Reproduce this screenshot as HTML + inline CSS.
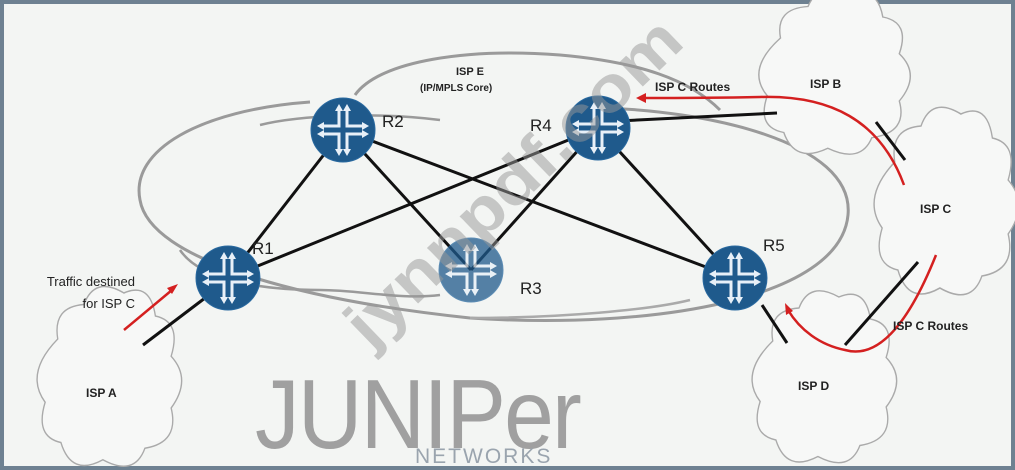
<!DOCTYPE html>
<html><head><meta charset="utf-8"><style>
html,body{margin:0;padding:0;}
body{width:1015px;height:470px;background:#6e8191;overflow:hidden;}
#c{position:absolute;left:4px;top:4px;width:1007px;height:462px;background:#f3f5f3;}
svg{position:absolute;left:0;top:0;}
text{font-family:"Liberation Sans",sans-serif;}
</style></head><body><div id="c"></div>
<svg width="1015" height="470" viewBox="0 0 1015 470">
<defs>
<g id="rt">
<circle r="32" fill="#1f5a8c" stroke="#2a6aa0" stroke-width="1"/>
<g stroke="#e8f0f8" stroke-width="3" fill="none">
<path d="M-4,-20 V-4 H-20 M4,-20 V-4 H20 M-4,20 V4 H-20 M4,20 V4 H20"/>
</g>
<g fill="#e8f0f8">
<path d="M-4,-26 l-4,7 h8z M4,-26 l-4,7 h8z M-4,26 l-4,-7 h8z M4,26 l-4,-7 h8z"/>
<path d="M-26,-4 l7,-4 v8z M-26,4 l7,-4 v8z M26,-4 l-7,-4 v8z M26,4 l-7,-4 v8z"/>
</g>
</g>
<path id="cloud" d="M-45,-40 q-5,-28 25,-30 q10,-25 38,-10 q25,-10 30,20 q25,5 15,35 q20,20 0,45 q8,30 -25,35 q-10,25 -40,10 q-30,15 -40,-15 q-25,-5 -15,-35 q-20,-25 12,-55z" fill="#f7f8f7" stroke="#aaa" stroke-width="1.3"/>
</defs>
<path d="M310,102 C200,110 130,150 140,200 C150,260 300,300 470,318 C650,330 840,300 848,215 C855,140 700,110 600,108" fill="none" stroke="#9a9a9a" stroke-width="3"/>
<path d="M355,95 C380,60 470,48 560,55 C640,62 690,80 720,110" fill="none" stroke="#9a9a9a" stroke-width="3"/>
<path d="M260,125 C300,115 380,112 440,120" fill="none" stroke="#9a9a9a" stroke-width="2.5"/>
<path d="M180,250 C200,280 260,290 320,290 C360,290 400,300 440,295" fill="none" stroke="#9a9a9a" stroke-width="2.5"/>
<path d="M690,300 C650,310 560,318 470,318" fill="none" stroke="#aaa" stroke-width="2.5"/>
<use href="#cloud" transform="translate(105,385) scale(1.05,1.15)"/>
<use href="#cloud" transform="translate(830,80) scale(1.1,1.05)"/>
<use href="#cloud" transform="translate(942,210) scale(1.05,1.2)"/>
<use href="#cloud" transform="translate(820,385) scale(1.05,1.1)"/>
<g stroke="#111" stroke-width="3" fill="none">
<line x1="228" y1="278" x2="343" y2="130"/>
<line x1="228" y1="278" x2="598" y2="128"/>
<line x1="343" y1="130" x2="471" y2="270"/>
<line x1="343" y1="130" x2="735" y2="278"/>
<line x1="471" y1="270" x2="598" y2="128"/>
<line x1="598" y1="128" x2="735" y2="278"/>
<line x1="598" y1="122" x2="777" y2="113"/>
<line x1="143" y1="345" x2="205" y2="298"/>
<line x1="762" y1="305" x2="787" y2="343"/>
<line x1="876" y1="122" x2="905" y2="160"/>
<line x1="918" y1="262" x2="845" y2="345"/>
</g>
<g stroke="#d42020" stroke-width="2.5" fill="none">
<line x1="124" y1="330" x2="172" y2="290"/>
<path d="M904,185 C880,120 830,95 760,97 C710,98 670,98 642,98"/>
<path d="M936,255 C910,320 880,360 845,350 C820,345 800,330 788,310"/>
</g>
<g fill="#d42020">
<path d="M178,284 l-11,4 l5,6z"/>
<path d="M636,98 l10,-5 v10z"/>
<path d="M785,303 l1,12 l7,-4z"/>
</g>
<use href="#rt" transform="translate(228,278)"/>
<use href="#rt" transform="translate(343,130)"/>
<use href="#rt" transform="translate(598,128)"/>
<use href="#rt" transform="translate(735,278)"/>
<g opacity="0.75"><use href="#rt" transform="translate(471,270)"/></g>
<g font-size="17" fill="#222">
<text x="252" y="254">R1</text>
<text x="382" y="127">R2</text>
<text x="520" y="294">R3</text>
<text x="530" y="131">R4</text>
<text x="763" y="251">R5</text>
</g>
<g font-size="12" fill="#222" font-weight="bold">
<text x="456" y="75" font-size="11">ISP E</text>
<text x="420" y="91" font-size="10">(IP/MPLS Core)</text>
<text x="655" y="91">ISP C Routes</text>
<text x="810" y="88">ISP B</text>
<text x="920" y="213">ISP C</text>
<text x="893" y="330">ISP C Routes</text>
<text x="798" y="390">ISP D</text>
<text x="86" y="397">ISP A</text>
</g>
<g font-size="13" fill="#222" text-anchor="end">
<text x="135" y="286">Traffic destined</text>
<text x="135" y="308">for ISP C</text>
</g>
<text x="255" y="448" font-size="98" fill="#a0a0a0" letter-spacing="-2" textLength="325" lengthAdjust="spacingAndGlyphs">JUNIPer</text>
<text x="415" y="463" font-size="21" fill="#9aa4ae" letter-spacing="2">NETWORKS</text>
<text x="370" y="350" font-size="64" font-weight="bold" fill="#999" opacity="0.5" transform="rotate(-44 370 350)" textLength="440" lengthAdjust="spacingAndGlyphs">jynnpdf.com</text>
</svg>
</body></html>
